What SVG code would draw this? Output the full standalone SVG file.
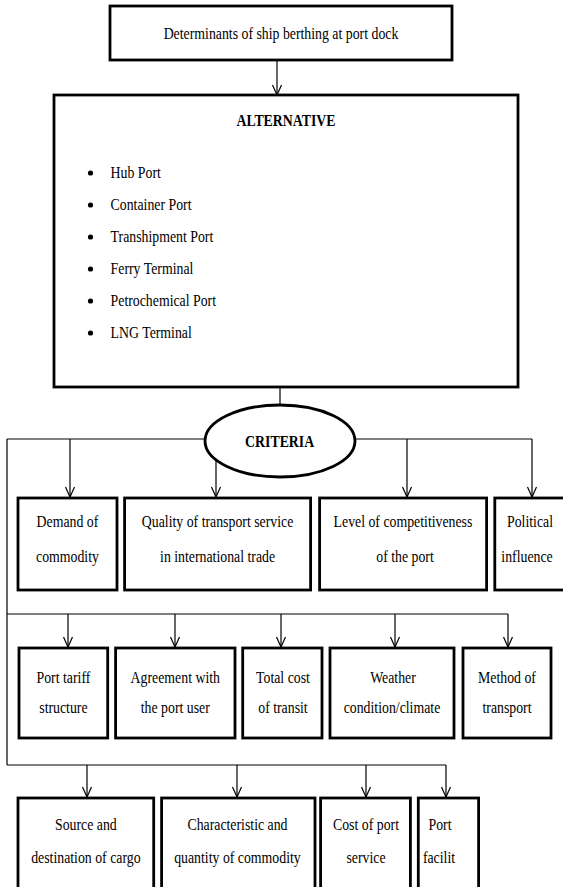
<svg xmlns="http://www.w3.org/2000/svg" width="563" height="887" viewBox="0 0 563 887">
<style>
.box{fill:#fff;stroke:#000;stroke-width:2.8}
.ln{fill:none;stroke:#000;stroke-width:1.2}
text{font-family:"Liberation Serif","Times New Roman","DejaVu Serif",serif;font-size:17.5px;fill:#000}
.c{text-anchor:middle}
.b{font-weight:bold}
</style>
<defs>
<marker id="ah" viewBox="-1 -6 12 12" refX="10" refY="0" markerWidth="12" markerHeight="12" markerUnits="userSpaceOnUse" orient="auto">
<path d="M0,-4.5 L10,0 L0,4.5" fill="none" stroke="#000" stroke-width="1.2"/>
</marker>
</defs>
<rect width="563" height="887" fill="#fff"/>

<g id="connectors">
<path class="ln" d="M277,60 V95" marker-end="url(#ah)"/>
<path class="ln" d="M280,387 V405"/>
<path class="ln" d="M7,439 H205 M355,439 H532 M7,439 V765"/>
<path class="ln" d="M70,439 V497" marker-end="url(#ah)"/>
<path class="ln" d="M216,460 V497" marker-end="url(#ah)"/>
<path class="ln" d="M407,439 V497" marker-end="url(#ah)"/>
<path class="ln" d="M532,439 V497" marker-end="url(#ah)"/>
<path class="ln" d="M7,614 H508"/>
<path class="ln" d="M68,614 V647" marker-end="url(#ah)"/>
<path class="ln" d="M175,614 V647" marker-end="url(#ah)"/>
<path class="ln" d="M281,614 V647" marker-end="url(#ah)"/>
<path class="ln" d="M395,614 V647" marker-end="url(#ah)"/>
<path class="ln" d="M508,614 V647" marker-end="url(#ah)"/>
<path class="ln" d="M7,765 H446"/>
<path class="ln" d="M87,765 V797" marker-end="url(#ah)"/>
<path class="ln" d="M237,765 V797" marker-end="url(#ah)"/>
<path class="ln" d="M366,765 V797" marker-end="url(#ah)"/>
<path class="ln" d="M446,765 V797" marker-end="url(#ah)"/>
</g>

<g id="determinants">
<rect class="box" x="110" y="6" width="342" height="54"/>
<text class="c" transform="scale(0.79 1)" x="355.7" y="39">Determinants of ship berthing at port dock</text>
</g>

<g id="alternative">
<rect class="box" x="54" y="95" width="464" height="292"/>
<text class="c b" transform="scale(0.79 1)" x="362" y="126">ALTERNATIVE</text>
<circle cx="90.5" cy="173" r="2.6"/>
<circle cx="90.5" cy="205" r="2.6"/>
<circle cx="90.5" cy="237" r="2.6"/>
<circle cx="90.5" cy="269" r="2.6"/>
<circle cx="90.5" cy="301" r="2.6"/>
<circle cx="90.5" cy="333" r="2.6"/>
<g transform="scale(0.79 1)">
<text x="140" y="178">Hub Port</text>
<text x="140" y="210">Container Port</text>
<text x="140" y="242">Transhipment Port</text>
<text x="140" y="274">Ferry Terminal</text>
<text x="140" y="306">Petrochemical Port</text>
<text x="140" y="338">LNG Terminal</text>
</g>
</g>

<g id="criteria">
<ellipse class="box" cx="280" cy="441" rx="75" ry="36"/>
<text class="c b" transform="scale(0.79 1)" x="354" y="447">CRITERIA</text>
</g>

<g id="demand">
<rect class="box" x="18" y="498" width="99" height="92"/>
<g transform="scale(0.79 1)">
<text class="c" x="85.4" y="527">Demand of</text>
<text class="c" x="85.4" y="562">commodity</text>
</g>
</g>
<g id="quality">
<rect class="box" x="124.6" y="498" width="186" height="92"/>
<g transform="scale(0.79 1)">
<text class="c" x="275.4" y="527">Quality of transport service</text>
<text class="c" x="275.4" y="562">in international trade</text>
</g>
</g>
<g id="competitiveness">
<rect class="box" x="319.6" y="498" width="167" height="92"/>
<g transform="scale(0.79 1)">
<text class="c" x="510.1" y="527">Level of competitiveness</text>
<text class="c" x="512.7" y="562">of the port</text>
</g>
</g>
<g id="political">
<rect class="box" x="494.8" y="498" width="72" height="92"/>
<g transform="scale(0.79 1)">
<text class="c" x="670.9" y="527">Political</text>
<text class="c" x="667.1" y="562">influence</text>
</g>
</g>

<g id="tariff">
<rect class="box" x="19" y="648" width="88.7" height="90"/>
<g transform="scale(0.79 1)">
<text class="c" x="80.3" y="683">Port tariff</text>
<text class="c" x="80.3" y="713">structure</text>
</g>
</g>
<g id="agreement">
<rect class="box" x="115.6" y="648" width="119.4" height="90"/>
<g transform="scale(0.79 1)">
<text class="c" x="221.9" y="683">Agreement with</text>
<text class="c" x="221.9" y="713">the port user</text>
</g>
</g>
<g id="transit">
<rect class="box" x="242.7" y="648" width="79.3" height="90"/>
<g transform="scale(0.79 1)">
<text class="c" x="358.2" y="683">Total cost</text>
<text class="c" x="358.2" y="713">of transit</text>
</g>
</g>
<g id="weather">
<rect class="box" x="330" y="648" width="124" height="90"/>
<g transform="scale(0.79 1)">
<text class="c" x="497.5" y="683">Weather</text>
<text class="c" x="496.2" y="713">condition/climate</text>
</g>
</g>
<g id="method">
<rect class="box" x="463" y="648" width="88" height="90"/>
<g transform="scale(0.79 1)">
<text class="c" x="641.8" y="683">Method of</text>
<text class="c" x="641.8" y="713">transport</text>
</g>
</g>

<g id="source">
<rect class="box" x="18" y="798" width="135.7" height="100"/>
<g transform="scale(0.79 1)">
<text class="c" x="108.7" y="830">Source and</text>
<text class="c" x="108.7" y="863">destination of cargo</text>
</g>
</g>
<g id="characteristic">
<rect class="box" x="161.6" y="798" width="153.4" height="100"/>
<g transform="scale(0.79 1)">
<text class="c" x="300.6" y="830">Characteristic and</text>
<text class="c" x="300.6" y="863">quantity of commodity</text>
</g>
</g>
<g id="costport">
<rect class="box" x="320.6" y="798" width="89.8" height="100"/>
<g transform="scale(0.79 1)">
<text class="c" x="463.3" y="830">Cost of port</text>
<text class="c" x="463.3" y="863">service</text>
</g>
</g>
<g id="facility">
<rect class="box" x="418.3" y="798" width="60.3" height="100"/>
<g transform="scale(0.79 1)">
<text class="c" x="557" y="830">Port</text>
<text class="c" x="555.7" y="863">facilit</text>
</g>
</g>
</svg>
